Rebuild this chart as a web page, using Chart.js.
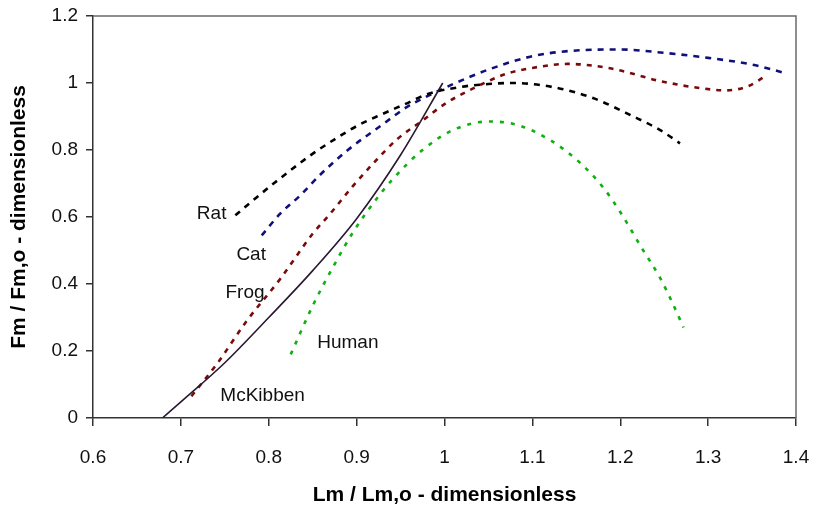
<!DOCTYPE html>
<html>
<head>
<meta charset="utf-8">
<script src="https://cdn.jsdelivr.net/npm/chart.js@4.4.1/dist/chart.umd.min.js"></script>
<style>
  html, body { margin: 0; padding: 0; background: #fff; }
  #wrap { width: 814px; height: 508px; }
</style>
</head>
<body>
<div id="wrap"><canvas id="chart" width="814" height="508"></canvas></div>
<script>
// --- DATA (x = Lm / Lm,o, y = Fm / Fm,o) ---
const ratPoints = [
  [0.762, 0.605], [0.78, 0.645], [0.807, 0.703], [0.849, 0.787], [0.875, 0.832],
  [0.902, 0.874], [0.929, 0.907], [0.955, 0.937], [0.981, 0.967], [1.018, 0.988],
  [1.05, 0.997], [1.078, 1.0], [1.123, 0.988], [1.169, 0.955], [1.215, 0.9],
  [1.245, 0.86], [1.268, 0.82]
];
const catPoints = [
  [0.792, 0.545], [0.813, 0.61], [0.836, 0.665], [0.86, 0.73], [0.89, 0.8],
  [0.93, 0.877], [0.957, 0.928], [0.98, 0.96], [1.01, 0.997], [1.05, 1.04],
  [1.1, 1.08], [1.15, 1.097], [1.2, 1.1], [1.25, 1.09], [1.3, 1.075],
  [1.35, 1.055], [1.39, 1.028]
];
const frogPoints = [
  [0.712, 0.065], [0.742, 0.165], [0.775, 0.29], [0.813, 0.415], [0.85, 0.55],
  [0.87, 0.61], [0.895, 0.69], [0.92, 0.763], [0.946, 0.832], [0.974, 0.886],
  [1.0, 0.937], [1.026, 0.975], [1.07, 1.027], [1.1, 1.045], [1.14, 1.057],
  [1.19, 1.043], [1.245, 1.006], [1.29, 0.985], [1.32, 0.978], [1.345, 0.99],
  [1.365, 1.02]
];
const humanPoints = [
  [0.825, 0.19], [0.85, 0.335], [0.873, 0.45], [0.896, 0.555], [0.92, 0.645],
  [0.94, 0.71], [0.975, 0.8], [1.01, 0.86], [1.05, 0.885], [1.08, 0.877],
  [1.12, 0.83], [1.155, 0.76], [1.18, 0.69], [1.2, 0.615], [1.225, 0.505],
  [1.245, 0.42], [1.26, 0.34], [1.272, 0.27]
];
const mckibbenPoints = [
  [0.679, 0.0], [0.7, 0.048], [0.75, 0.165], [0.8, 0.3], [0.85, 0.44],
  [0.9, 0.595], [0.95, 0.785], [0.998, 1.0]
];

// curve name labels, anchored in data units
const curveLabels = [
  { text: 'Rat', x: 0.735, y: 0.61 },
  { text: 'Cat', x: 0.78, y: 0.488 },
  { text: 'Frog', x: 0.773, y: 0.374 },
  { text: 'Human', x: 0.89, y: 0.225 },
  { text: 'McKibben', x: 0.793, y: 0.066 }
];

const xTicks = [0.6, 0.7, 0.8, 0.9, 1.0, 1.1, 1.2, 1.3, 1.4];
const yTicks = [0, 0.2, 0.4, 0.6, 0.8, 1.0, 1.2];

const FONT = 'Liberation Sans, Arial, Helvetica, sans-serif';

function toXY(arr) {
  return arr.map(p => ({ x: p[0], y: p[1] }));
}

function makeSeries(label, pts, color, dash, width) {
  return {
    label: label,
    data: toXY(pts),
    showLine: true,
    borderColor: color,
    backgroundColor: color,
    borderWidth: width,
    borderDash: dash,
    pointRadius: 0,
    cubicInterpolationMode: 'monotone'
  };
}

// --- PLUGINS ---
const framePlugin = {
  id: 'frame',
  beforeDatasetsDraw(chart) {
    const a = chart.chartArea;
    const ctx = chart.ctx;
    ctx.save();
    ctx.strokeStyle = '#6a6a6a';
    ctx.lineWidth = 1.5;
    ctx.beginPath();
    ctx.moveTo(a.left, a.top);
    ctx.lineTo(a.right, a.top);
    ctx.lineTo(a.right, a.bottom);
    ctx.stroke();
    ctx.restore();
  }
};

const labelPlugin = {
  id: 'curveLabels',
  afterDatasetsDraw(chart) {
    const ctx = chart.ctx;
    const xs = chart.scales.x, ys = chart.scales.y;
    ctx.save();
    ctx.fillStyle = '#111';
    ctx.font = '19px ' + FONT;
    ctx.textAlign = 'center';
    ctx.textBaseline = 'middle';
    curveLabels.forEach(l => {
      ctx.fillText(l.text, xs.getPixelForValue(l.x), ys.getPixelForValue(l.y));
    });
    ctx.restore();
  }
};

// --- CHART ---
const ctx = document.getElementById('chart').getContext('2d');
new Chart(ctx, {
  type: 'scatter',
  data: {
    datasets: [
      makeSeries('McKibben', mckibbenPoints, '#2a1830', [], 1.6),
      makeSeries('Rat', ratPoints, '#000000', [6, 6], 2.6),
      makeSeries('Cat', catPoints, '#10107a', [6, 6], 2.6),
      makeSeries('Frog', frogPoints, '#7a0a0a', [5, 6], 2.6),
      makeSeries('Human', humanPoints, '#10b010', [4, 7], 2.6)
    ]
  },
  options: {
    responsive: false,
    animation: false,
    layout: { padding: { top: 16, right: 18, left: 0, bottom: 0 } },
    plugins: {
      legend: { display: false },
      tooltip: { enabled: false }
    },
    scales: {
      x: {
        type: 'linear',
        min: 0.6, max: 1.4,
        afterBuildTicks: (s) => { s.ticks = xTicks.map(v => ({ value: v })); },
        afterFit: (s) => { s.height = 90; s.paddingLeft = 0; s.paddingRight = 0; },
        grid: { display: true, drawOnChartArea: false, drawTicks: true, tickLength: 8, color: '#333', lineWidth: 1.5 },
        border: { display: true, color: '#333', width: 1.5 },
        ticks: {
          color: '#111', padding: 20,
          font: { family: FONT, size: 19 },
          maxRotation: 0,
          callback: (v) => String(Math.round(v * 10) / 10)
        },
        title: {
          display: true, text: 'Lm / Lm,o - dimensionless', color: '#000',
          font: { family: FONT, size: 21, weight: 'bold' },
          padding: { top: 0, bottom: 0 }
        }
      },
      y: {
        type: 'linear',
        min: 0, max: 1.2,
        afterBuildTicks: (s) => { s.ticks = yTicks.map(v => ({ value: v })); },
        afterFit: (s) => { s.width = 93; s.paddingTop = 0; s.paddingBottom = 0; },
        grid: { display: true, drawOnChartArea: false, drawTicks: true, tickLength: 7, color: '#333', lineWidth: 1.5 },
        border: { display: true, color: '#333', width: 1.5 },
        ticks: {
          color: '#111', padding: 8,
          font: { family: FONT, size: 19 },
          callback: (v) => String(Math.round(v * 10) / 10)
        },
        title: {
          display: true, text: 'Fm / Fm,o - dimensionless', color: '#000',
          font: { family: FONT, size: 21, weight: 'bold' },
          padding: { top: 7, bottom: 0 }
        }
      }
    }
  },
  plugins: [framePlugin, labelPlugin]
});
</script>
</body>
</html>
